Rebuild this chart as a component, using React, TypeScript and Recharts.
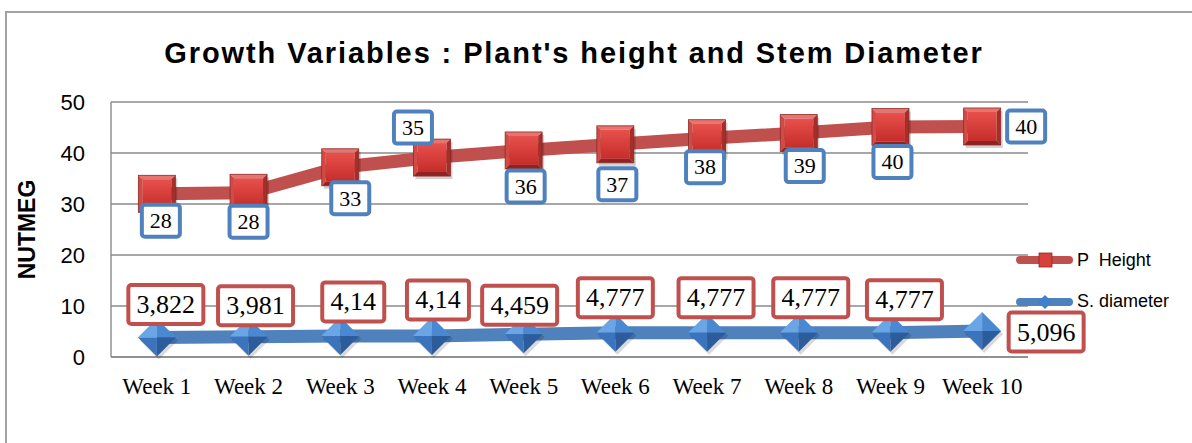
import React from 'react';
import { LineChart, Line, XAxis, YAxis, CartesianGrid, LabelList } from 'recharts';

const weeks = ['Week 1', 'Week 2', 'Week 3', 'Week 4', 'Week 5', 'Week 6', 'Week 7', 'Week 8', 'Week 9', 'Week 10'];
const plantHeight = [32, 32.2, 37.2, 39.1, 40.5, 41.7, 42.9, 43.9, 45.1, 45.2];
const plantHeightLabels = ['28', '28', '33', '35', '36', '37', '38', '39', '40', '40'];
const stemDiameter = [3.822, 3.981, 4.14, 4.14, 4.459, 4.777, 4.777, 4.777, 4.777, 5.096];
const stemDiameterLabels = ['3,822', '3,981', '4,14', '4,14', '4,459', '4,777', '4,777', '4,777', '4,777', '5,096'];
const yTicks = [0, 10, 20, 30, 40, 50];

// layout: label offsets (px) relative to each point, as placed in the original
const heightLabelOffsets: [number, number][] = [
  [4, 27], [0, 29], [10, 31], [-19, -30], [2, 36], [2, 40], [-2, 29], [6, 33], [2, 35], [44, 0],
];
const diameterLabelOffsets: [number, number][] = [
  [9, -33], [7, -31], [13, -34], [6, -36], [-4, -29], [0, -35], [9, -35], [12, -35], [14, -33], [64, 1],
];

const data = weeks.map((w, i) => ({
  week: w,
  height: plantHeight[i],
  diameter: stemDiameter[i],
  heightLabel: plantHeightLabels[i],
  diameterLabel: stemDiameterLabels[i],
}));

const RED = '#C0504D';
const BLUE = '#4F81BD';
const GRID = '#8a8a8a';

function textWidth(s: string, fs: number) {
  let w = 0;
  for (const c of s) w += c === ',' ? 0.25 : 0.5;
  return w * fs;
}

const SquareDot = (props: any) => {
  const { cx, cy } = props;
  if (cx == null || cy == null) return null;
  const h = 18.5;
  const b = 4;
  return (
    <g>
      <rect x={cx - h + 2} y={cy - h + 3} width={2 * h} height={2 * h} fill="rgba(0,0,0,0.18)" />
      <polygon points={`${cx - h},${cy - h} ${cx + h},${cy - h} ${cx + h - b},${cy - h + b} ${cx - h + b},${cy - h + b}`} fill="#E87470" />
      <polygon points={`${cx - h},${cy - h} ${cx - h + b},${cy - h + b} ${cx - h + b},${cy + h - b} ${cx - h},${cy + h}`} fill="#D24A46" />
      <polygon points={`${cx + h},${cy - h} ${cx + h},${cy + h} ${cx + h - b},${cy + h - b} ${cx + h - b},${cy - h + b}`} fill="#A52D2A" />
      <polygon points={`${cx - h},${cy + h} ${cx + h},${cy + h} ${cx + h - b},${cy + h - b} ${cx - h + b},${cy + h - b}`} fill="#8E2321" />
      <rect x={cx - h + b} y={cy - h + b} width={2 * (h - b)} height={2 * (h - b)} fill="url(#redFace)" />
      <rect x={cx - h} y={cy - h} width={2 * h} height={2 * h} fill="none" stroke="#8B2A27" strokeWidth={0.8} />
    </g>
  );
};

const DiamondDot = (props: any) => {
  const { cx, cy } = props;
  if (cx == null || cy == null) return null;
  const r = 19;
  const T = `${cx},${cy - r}`;
  const B = `${cx},${cy + r}`;
  const L = `${cx - r},${cy}`;
  const R = `${cx + r},${cy}`;
  const C = `${cx},${cy}`;
  return (
    <g>
      <polygon points={`${cx + 2},${cy - r + 3} ${cx + r + 2},${cy + 3} ${cx + 2},${cy + r + 3} ${cx - r + 2},${cy + 3}`} fill="rgba(0,0,0,0.15)" />
      <polygon points={`${T} ${L} ${C}`} fill="#6AA5E6" />
      <polygon points={`${T} ${R} ${C}`} fill="#4A88D2" />
      <polygon points={`${L} ${B} ${C}`} fill="#3B74BC" />
      <polygon points={`${R} ${B} ${C}`} fill="#2C5C9C" />
    </g>
  );
};

const BoxLabel = (props: any) => {
  const { x, y, value, index, offsets, border, fontSize, boxH, padW } = props;
  if (x == null || y == null) return null;
  const [dx, dy] = offsets[index] || [0, 0];
  const cx = x + dx;
  const cy = y + dy;
  const tw = textWidth(String(value), fontSize);
  const w = tw + padW;
  return (
    <g>
      <rect x={cx - w / 2} y={cy - boxH / 2} width={w} height={boxH} rx={3} ry={3} fill="#fff" stroke={border} strokeWidth={4} />
      <text x={cx} y={cy + fontSize * 0.33} textAnchor="middle" fontFamily="'Liberation Serif', 'Times New Roman', serif" fontSize={fontSize} fill="#000">
        {value}
      </text>
    </g>
  );
};

const YLabel = (props: any) => {
  const vb = props.viewBox || { x: 0, y: 102, width: 111, height: 255 };
  const x = vb.x + 27;
  const y = vb.y + vb.height / 2;
  return (
    <text x={x} y={y} transform={`rotate(-90, ${x}, ${y})`} textAnchor="middle" dominantBaseline="central"
      fontFamily="'Liberation Sans', Arial, sans-serif" fontWeight="bold" fontSize={23} fill="#000">
      NUTMEG
    </text>
  );
};

export default function App() {
  return (
    <div style={{ position: 'absolute', left: 0, top: 0, width: 1192, height: 443, overflow: 'hidden', background: '#fff' }}>
      <div style={{ position: 'absolute', left: 5, top: 11, width: 1300, height: 600, border: '2px solid #a3a3a3' }} />
      <div style={{ position: 'absolute', left: 0, top: 0 }}>
        <LineChart width={1192} height={443} data={data} margin={{ top: 102, right: 164, bottom: 0, left: 0 }}>
          <defs>
            <linearGradient id="redFace" x1="0" y1="0" x2="0" y2="1">
              <stop offset="0%" stopColor="#E8504C" />
              <stop offset="100%" stopColor="#C42D29" />
            </linearGradient>
          </defs>
          <CartesianGrid vertical={false} stroke={GRID} strokeWidth={1.4} />
          <XAxis
            dataKey="week"
            height={86}
            interval={0}
            padding={{ left: 45.85, right: 45.85 }}
            tickLine={false}
            tickSize={0}
            tickMargin={21}
            axisLine={{ stroke: GRID, strokeWidth: 1.4 }}
            tick={{ fontFamily: "'Liberation Serif', 'Times New Roman', serif", fontSize: 23, fill: '#000' }}
          />
          <YAxis
            width={111}
            domain={[0, 50]}
            ticks={yTicks}
            tickLine={false}
            tickSize={0}
            tickMargin={26}
            axisLine={{ stroke: GRID, strokeWidth: 1.4 }}
            tick={{ fontFamily: "'Liberation Sans', Arial, sans-serif", fontSize: 22, fill: '#000' }}
            label={{ content: (p: any) => <YLabel {...p} /> }}
          />
          <Line
            type="linear"
            dataKey="height"
            stroke={RED}
            strokeWidth={13}
            dot={(p: any) => <SquareDot key={`sq-${p.index}`} {...p} />}
            activeDot={false}
            isAnimationActive={false}
          >
            <LabelList
              dataKey="heightLabel"
              content={(p: any) => (
                <BoxLabel {...p} offsets={heightLabelOffsets} border={BLUE} fontSize={22} boxH={32} padW={16} />
              )}
            />
          </Line>
          <Line
            type="linear"
            dataKey="diameter"
            stroke={BLUE}
            strokeWidth={13}
            dot={(p: any) => <DiamondDot key={`dm-${p.index}`} {...p} />}
            activeDot={false}
            isAnimationActive={false}
          >
            <LabelList
              dataKey="diameterLabel"
              content={(p: any) => (
                <BoxLabel {...p} offsets={diameterLabelOffsets} border={RED} fontSize={26} boxH={39} padW={16.5} />
              )}
            />
          </Line>
        </LineChart>
      </div>
      <svg width={1192} height={443} style={{ position: 'absolute', left: 0, top: 0, pointerEvents: 'none' }}>
        <text x={574} y={63} textAnchor="middle" fontFamily="'Liberation Sans', Arial, sans-serif" fontWeight="bold"
          fontSize={29} letterSpacing={1.9} fill="#000">
          Growth Variables : Plant's height and Stem Diameter
        </text>
        <line x1={1020} y1={260} x2={1069} y2={260} stroke={RED} strokeWidth={8} strokeLinecap="round" />
        <rect x={1039} y={253} width={13} height={14} fill="#D8403C" stroke="#8B2A27" strokeWidth={0.8} />
        <text x={1077} y={266} fontFamily="'Liberation Sans', Arial, sans-serif" fontSize={18} fill="#000" xmlSpace="preserve">
          P  Height
        </text>
        <line x1={1020} y1={302} x2={1069} y2={302} stroke={BLUE} strokeWidth={8} strokeLinecap="round" />
        <polygon points="1045,295 1052,302 1045,309 1038,302" fill="#3F7FCC" />
        <text x={1077} y={307} fontFamily="'Liberation Sans', Arial, sans-serif" fontSize={18} fill="#000">
          S. diameter
        </text>
      </svg>
    </div>
  );
}
